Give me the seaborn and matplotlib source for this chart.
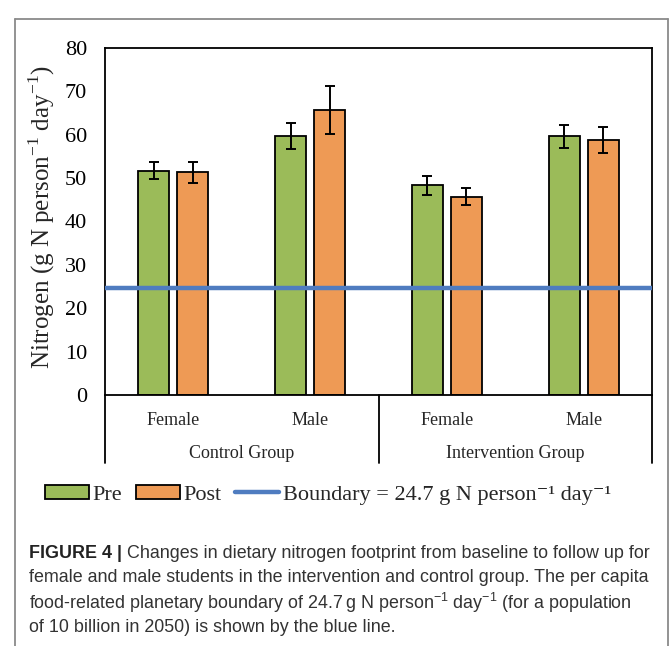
import numpy as np
import pandas as pd
import matplotlib
matplotlib.use("Agg")
import matplotlib.pyplot as plt
import seaborn as sns
from matplotlib.lines import Line2D

# ---- data ----
groups = ["Control Group", "Control Group", "Intervention Group", "Intervention Group"]
sexes = ["Female", "Male", "Female", "Male"]
pre_values = [51.7, 59.6, 48.4, 59.6]
post_values = [51.3, 65.7, 45.7, 58.7]
pre_err = [2.0, 3.0, 2.2, 2.7]
post_err = [2.4, 5.6, 2.0, 3.0]
boundary = 24.7
y_ticks = [0, 10, 20, 30, 40, 50, 60, 70, 80]
series_names = ["Pre", "Post"]

keys = [f"{g} {s}" for g, s in zip(groups, sexes)]
df = pd.DataFrame({
    "key": keys * 2,
    "phase": ["Pre"] * 4 + ["Post"] * 4,
    "value": pre_values + post_values,
    "err": pre_err + post_err,
})

sns.set_theme(style="white")
plt.rcParams["font.family"] = ["Liberation Serif", "DejaVu Serif"]
plt.rcParams["mathtext.fontset"] = "custom"
plt.rcParams["mathtext.rm"] = "Liberation Serif"

W, H = 671, 646
fig = plt.figure(figsize=(W / 100, H / 100), dpi=100)
ax_l, ax_r, ax_t, ax_b = 105, 652, 48, 395
ax = fig.add_axes([ax_l / W, 1 - ax_b / H, (ax_r - ax_l) / W, (ax_b - ax_t) / H])

green = "#9bbb59"
orange = "#ee9a55"
blue = "#4f7cc0"

sns.barplot(data=df, x="key", y="value", hue="phase", order=keys,
            hue_order=series_names, palette=[green, orange], saturation=1,
            width=0.57, gap=0.2, errorbar=None, edgecolor="black", linewidth=1.3,
            ax=ax, legend=False)

# error bars positioned from seaborn's bars
bars = [p for p in ax.patches]
vals = pre_values + post_values
errs = pre_err + post_err
for p, v, e in zip(bars, vals, errs):
    xc = p.get_x() + p.get_width() / 2
    ax.errorbar(xc, v, yerr=e, fmt="none", ecolor="black", elinewidth=1.4,
                capsize=3.5, capthick=1.4, zorder=5)

bline = ax.axhline(boundary, color=blue, lw=3.2, zorder=4)

ax.set_xlim(-0.5, 3.5)
ax.set_ylim(0, 80)
ax.set_yticks(y_ticks)
ax.set_yticklabels([str(t) for t in y_ticks], fontsize=16)
ax.tick_params(axis="y", direction="in", length=5, width=1.2, pad=13, colors="black")
ax.tick_params(axis="x", length=0, pad=12)
ax.set_xticks(range(4))
ax.set_xticklabels(sexes, fontsize=13)
ax.set_xlabel("")
ax.set_ylabel("")
for s in ax.spines.values():
    s.set_visible(True)
    s.set_color("black")
    s.set_linewidth(1.3)

# separators and group labels below axis
trans = ax.get_xaxis_transform()
sep_bottom = -(463 - ax_b) / (ax_b - ax_t)
for xs in [-0.5, 1.5, 3.5]:
    ax.add_line(Line2D([xs, xs], [0, sep_bottom], transform=trans, color="black",
                       lw=1.3, clip_on=False))
grp_y = -(454 - ax_b) / (ax_b - ax_t)
for xg, g in [(0.5, "Control Group"), (2.5, "Intervention Group")]:
    ax.text(xg, grp_y, g, transform=trans, ha="center", va="center", fontsize=13)

# y label
fig.text(42 / W, 1 - 217 / H,
         "Nitrogen (g N person$^{\\mathregular{-1}}$ day$^{\\mathregular{-1}}$)",
         rotation=90, ha="center", va="center", fontsize=18)

# legend
h_pre, h_post = ax.patches[0], ax.patches[4]
fig.legend([h_pre, h_post, bline],
           ["Pre", "Post", "Boundary = 24.7 g N person\u207b\u00b9 day\u207b\u00b9"],
           loc="center", bbox_to_anchor=(328 / W, 1 - 495 / H), ncol=3,
           frameon=False, fontsize=16, handlelength=2.0, handleheight=0.6,
           handletextpad=0.15, columnspacing=0.6, borderpad=0)

# outer frame
fc = "#8a8a8a"
for xs, ys in [([15, 15], [19, H]), ([15, 668], [19, 19]), ([668, 668], [19, H])]:
    fig.add_artist(Line2D([x / W for x in xs], [1 - y / H for y in ys],
                          transform=fig.transFigure, color=fc, lw=1.3))

# caption
cap_font = ["Liberation Sans", "DejaVu Sans"]
cap_x = 29 / W
cap_size = 12.9
lines_y = [553, 578, 603, 628]
fig.canvas.draw()
r = fig.canvas.get_renderer()
t0 = fig.text(cap_x, 1 - lines_y[0] / H, "FIGURE 4 | ", fontsize=cap_size,
              fontweight="bold", family=cap_font, va="center", color="#222222")
bb = t0.get_window_extent(renderer=r)
fig.text(bb.x1 / W, 1 - lines_y[0] / H,
         "Changes in dietary nitrogen footprint from baseline to follow up for",
         fontsize=cap_size, family=cap_font, va="center", color="#333333")
cap_rest = [
    "female and male students in the intervention and control group. The per capita",
    "food-related planetary boundary of 24.7\u2009g N person$^{\\mathregular{\u22121}}$ day$^{\\mathregular{\u22121}}$ (for a population",
    "of 10 billion in 2050) is shown by the blue line.",
]
for yy, txt in zip(lines_y[1:], cap_rest):
    fig.text(cap_x, 1 - yy / H, txt, fontsize=cap_size, family=cap_font,
             va="center", color="#333333")

fig.savefig("out.png", dpi=100)
